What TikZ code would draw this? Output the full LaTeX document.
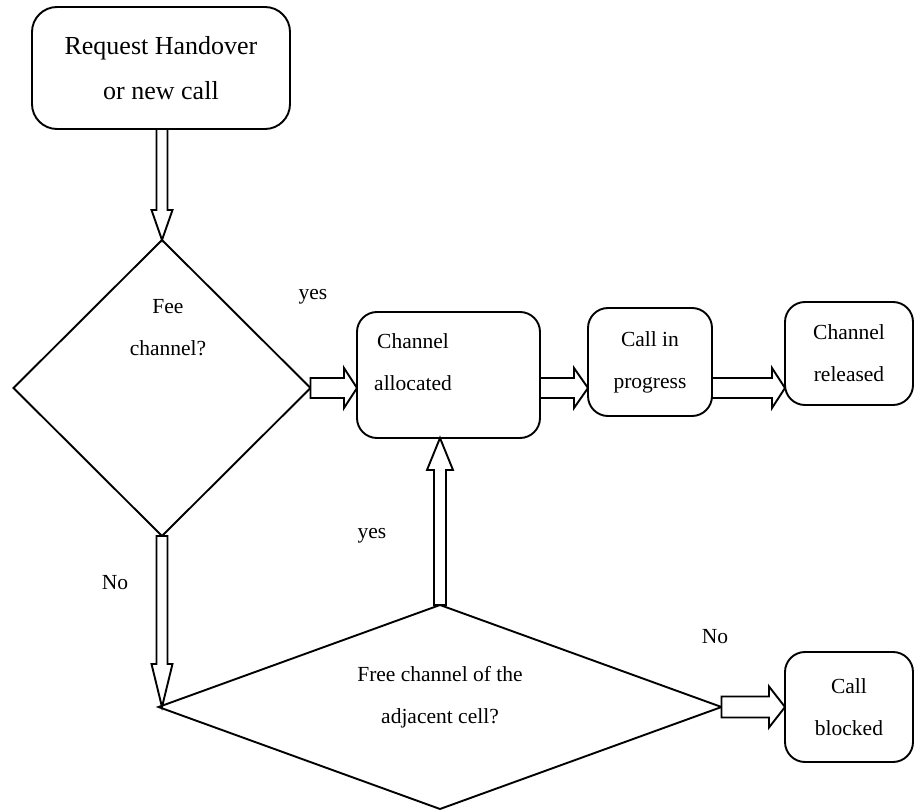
\documentclass[tikz,border=0pt]{standalone}
\usepackage{fontspec}
\setmainfont{Liberation Serif}
\usetikzlibrary{shapes.geometric,calc}

\newcommand\bodyfont{\fontsize{21.5}{42}\selectfont}
\newcommand\titlefont{\fontsize{26}{45}\selectfont}

\tikzset{
  flow/.style={line width=1.9pt},
  stepbox/.style={draw, flow, rounded corners=20pt, inner sep=0pt, outer sep=0pt,
    align=center, font=\bodyfont},
  decision/.style={draw, flow, diamond, inner sep=0pt, outer sep=0pt},
  caption/.style={align=center, font=\bodyfont, inner sep=0pt},
  blockline/.style={draw, flow, line join=miter, fill=white},
}

% hollow block arrow: start, end, shaft half width, head half width, head length
\newcommand\blockarrow[5]{%
  \path (#1) coordinate (ba-a) (#2) coordinate (ba-b);
  \path ($(ba-b)!#5!(ba-a)$) coordinate (ba-h);
  \draw[blockline] ($(ba-a)!#3!90:(ba-b)$) -- ($(ba-h)!#3!-90:(ba-a)$)
    -- ($(ba-h)!#4!-90:(ba-a)$) -- (ba-b) -- ($(ba-h)!#4!90:(ba-a)$)
    -- ($(ba-h)!#3!90:(ba-a)$) -- ($(ba-a)!#3!-90:(ba-b)$) -- cycle;
}

\begin{document}
\begin{tikzpicture}[x=1pt,y=-1pt]
\useasboundingbox (0,0) rectangle (914,810);

% shapes
\node[stepbox, rounded corners=25pt, minimum width=258pt, minimum height=122pt,
  font=\titlefont] (req) at (161,68) {Request Handover\\or new call};
\node[decision, minimum width=297pt, minimum height=296pt] (free) at (162,388) {};
\node[caption] (freetxt) at (168,328) {Fee\\channel?};
\node[stepbox, minimum width=183pt, minimum height=126pt] (alloc) at (448.5,375) {};
\node[caption] (alloctxt) at (413,362) {Channel\\allocated};
\node[stepbox, minimum width=124pt, minimum height=108pt] (prog) at (650,362) {Call in\\progress};
\node[stepbox, minimum width=128pt, minimum height=103pt] (rel) at (849,353.5) {Channel\\released};
\node[decision, minimum width=563pt, minimum height=204pt] (adj) at (440,707) {};
\node[caption] (adjtxt) at (440,697) {Free channel of the\\adjacent cell?};
\node[stepbox, minimum width=128pt, minimum height=110pt] (blk) at (849,707) {Call\\blocked};

% branch labels
\node[caption] (yes1) at (313,297) {yes};
\node[caption] (yes2) at (372,536) {yes};
\node[caption] (no1) at (115,583) {No};
\node[caption] (no2) at (715,637) {No};

% connectors
\blockarrow{req.south -| free.north}{free.north}{5.5pt}{10.5pt}{30pt}
\blockarrow{free.east}{free.east -| alloc.west}{10pt}{20pt}{13pt}
\blockarrow{alloc.east |- free.east}{prog.west |- free.east}{10pt}{20pt}{14pt}
\blockarrow{prog.east |- free.east}{rel.west |- free.east}{10pt}{20pt}{13pt}
\blockarrow{free.south}{free.south |- adj.west}{5.5pt}{10.5pt}{43pt}
\blockarrow{adj.north}{adj.north |- alloc.south}{6pt}{13pt}{32pt}
\blockarrow{adj.east}{adj.east -| blk.west}{10.5pt}{20.5pt}{16pt}
\end{tikzpicture}
\end{document}
